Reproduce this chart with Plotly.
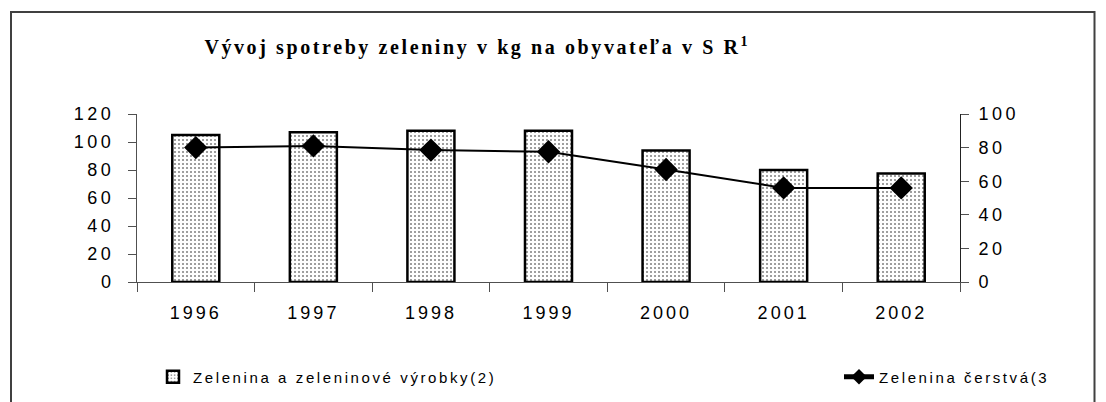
import plotly.graph_objects as go

# ---- data ----
years = ["1996", "1997", "1998", "1999", "2000", "2001", "2002"]
processed = [105, 107, 108, 108, 94, 80, 77.5]      # Zelenina a zeleninové výrobky (left axis)
fresh = [80, 81, 78.5, 77.5, 67, 56, 56]            # Zelenina čerstvá (right axis)
left_ticks = [0, 20, 40, 60, 80, 100, 120]
right_ticks = [0, 20, 40, 60, 80, 100]
title_text = "Vývoj spotreby zeleniny v kg na obyvateľa v S R"
name_bar = "Zelenina a zeleninové výrobky(2)"
name_line = "Zelenina čerstvá(3"


def spaced(s, px):
    return f'<span style="letter-spacing:{px}px">{s}</span>'


SANS = "Liberation Sans, Arial, sans-serif"
SERIF = "Liberation Serif, Times New Roman, serif"
AX = "#505050"

OFF = 8  # page body margin
W, H = 1106 - OFF, 402 - OFF
L, T = 137 - OFF, 114 - OFF
PW, PH = 823, 168
R, B = W - L - PW, H - T - PH


def px_x(px):  # page pixel -> paper
    return (px - OFF - L) / PW


def px_y(py):
    return (T + PH - (py - OFF)) / PH


fig = go.Figure()
fig.add_trace(go.Bar(
    x=years, y=processed, name=spaced(name_bar, 2.6), width=0.4,
    marker=dict(color="white", line=dict(color="black", width=2.5),
                pattern=dict(shape=".", fgcolor="black", bgcolor="white", size=4, solidity=0.2)),
    yaxis="y", legend="legend",
))
fig.add_trace(go.Scatter(
    x=years, y=fresh, name=spaced(name_line, 2.6), mode="lines+markers",
    line=dict(color="black", width=2),
    marker=dict(symbol="diamond", size=18, color="black"),
    yaxis="y2", legend="legend2",
))

tickfont = dict(family=SANS, size=18, color="black")

fig.update_layout(
    width=W, height=H,
    margin=dict(l=L, r=R, t=T, b=B, autoexpand=False),
    paper_bgcolor="white", plot_bgcolor="white",
    showlegend=True,
    title=dict(text="<b>" + spaced(title_text, 2.6) + "<sup>1</sup></b>",
               x=px_x(476), xref="paper", xanchor="center",
               y=1 - (47 - OFF) / H, yref="container", yanchor="middle",
               font=dict(family=SERIF, size=20, color="black")),
    xaxis=dict(type="category", range=[-0.5, 6.5], tickvals=years,
               ticktext=[spaced(y, 3) for y in years],
               showline=True, linecolor=AX, linewidth=1,
               ticks="outside", tickson="boundaries", ticklen=9, tickcolor=AX,
               tickfont=tickfont, ticklabelstandoff=14,
               showgrid=False, zeroline=False),
    yaxis=dict(range=[0, 120], tickvals=left_ticks,
               ticktext=[spaced(str(v), 3.5) for v in left_ticks],
               showline=True, linecolor=AX, linewidth=1,
               ticks="outside", ticklen=8, tickcolor=AX, tickfont=tickfont,
               ticklabelstandoff=10,
               showgrid=False, zeroline=False),
    yaxis2=dict(range=[0, 100], tickvals=right_ticks,
                ticktext=[spaced(str(v), 3.5) for v in right_ticks],
                overlaying="y", side="right", anchor="x",
                showline=True, linecolor="#222", linewidth=1,
                ticks="outside", ticklen=8, tickcolor=AX, tickfont=tickfont,
                ticklabelstandoff=6,
                showgrid=False, zeroline=False),
    yaxis3=dict(range=[0, 120], tickvals=left_ticks, overlaying="y", side="left",
                anchor="x", ticks="inside", ticklen=8, tickcolor=AX,
                showticklabels=False, showline=False, showgrid=False, zeroline=False),
    yaxis4=dict(range=[0, 100], tickvals=right_ticks, overlaying="y", side="right",
                anchor="x", ticks="inside", ticklen=8, tickcolor=AX,
                showticklabels=False, showline=False, showgrid=False, zeroline=False),
    legend=dict(x=px_x(153), y=px_y(377), xanchor="left", yanchor="middle",
                orientation="h", bgcolor="rgba(0,0,0,0)",
                font=dict(family=SANS, size=15, color="black")),
    legend2=dict(x=px_x(839), y=px_y(377), xanchor="left", yanchor="middle",
                 orientation="h", bgcolor="rgba(0,0,0,0)", itemsizing="constant",
                 font=dict(family=SANS, size=15, color="black")),
    shapes=[dict(type="rect", xref="paper", yref="paper",
                 x0=px_x(11), x1=px_x(1094.5), y0=px_y(430), y1=px_y(12),
                 line=dict(color="#404040", width=2), layer="above")],
)

fig.write_html("out.html")
